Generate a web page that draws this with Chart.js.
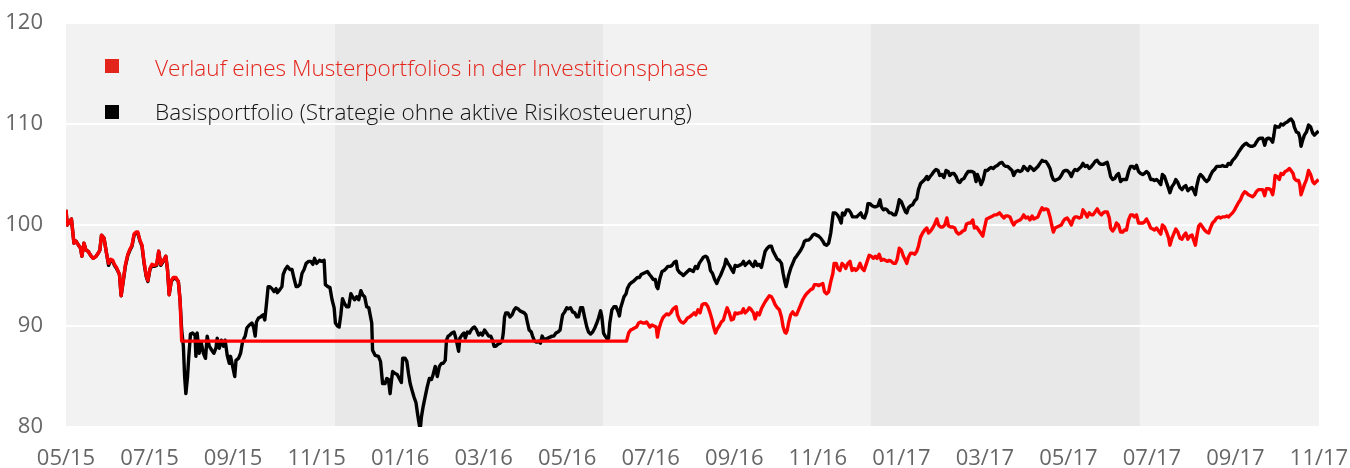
<!DOCTYPE html>
<html><head><meta charset="utf-8">
<script src="https://cdn.jsdelivr.net/npm/chart.js@4/dist/chart.umd.min.js"></script>
<style>html,body{margin:0;padding:0;background:#fff;}#wrap{width:1350px;height:468px;}</style>
</head><body><div id="wrap"><canvas id="c" width="1350" height="468"></canvas></div>
<script>
const tickLabels = ["05/15","07/15","09/15","11/15","01/16","03/16","05/16","07/16","09/16","11/16","01/17","03/17","05/17","07/17","09/17","11/17"];
const seriesNames = ["Verlauf eines Musterportfolios in der Investitionsphase","Basisportfolio (Strategie ohne aktive Risikosteuerung)"];
const yTicks = [80, 90, 100, 110, 120];
// shaded periods, in months since 05/15
const shadedBands = [[6.44, 12.86], [19.27, 25.71]];

// [months since 05/15, index value]
const basis = [
[0.00,101.5],[0.03,100.0],[0.08,100.3],[0.13,100.6],[0.15,99.8],[0.19,98.2],[0.24,98.4],[0.30,98.0],[0.35,97.7],[0.38,96.9],
[0.43,98.2],[0.48,97.5],[0.53,97.4],[0.59,97.0],[0.65,96.7],[0.72,96.9],[0.77,97.2],[0.81,97.5],[0.85,99.0],[0.91,98.7],
[0.97,97.2],[1.02,96.0],[1.07,96.5],[1.12,96.4],[1.16,96.0],[1.21,95.7],[1.28,95.1],[1.32,93.0],[1.37,94.4],[1.42,95.9],
[1.48,97.0],[1.53,97.5],[1.58,97.9],[1.63,99.0],[1.68,99.2],[1.72,99.2],[1.77,98.4],[1.82,97.9],[1.87,96.2],[1.92,94.9],
[1.96,94.4],[2.01,95.6],[2.06,96.0],[2.11,95.9],[2.17,96.0],[2.22,97.4],[2.27,96.0],[2.33,96.4],[2.39,96.9],[2.43,95.6],
[2.47,93.1],[2.52,94.4],[2.57,94.7],[2.63,94.7],[2.69,94.4],[2.73,92.6],[2.77,89.6],[2.81,88.0],[2.84,85.0],[2.87,83.3],
[2.91,85.0],[2.94,87.0],[2.98,89.2],[3.03,89.3],[3.09,89.1],[3.11,87.0],[3.14,89.3],[3.19,87.3],[3.24,88.3],[3.29,87.3],
[3.34,86.8],[3.38,89.0],[3.43,88.0],[3.49,87.6],[3.54,87.3],[3.59,87.8],[3.62,88.8],[3.67,87.8],[3.72,88.6],[3.77,88.0],
[3.81,88.6],[3.86,87.1],[3.91,86.3],[3.94,87.0],[3.99,86.0],[4.04,85.0],[4.07,86.6],[4.13,86.8],[4.18,87.3],[4.23,88.5],
[4.29,89.0],[4.33,89.8],[4.39,90.1],[4.45,90.3],[4.49,89.9],[4.53,89.0],[4.56,90.4],[4.61,90.8],[4.66,90.9],[4.72,91.1],
[4.76,90.6],[4.80,92.2],[4.84,93.9],[4.88,93.9],[4.93,93.7],[4.98,93.4],[5.03,93.7],[5.06,93.3],[5.12,93.6],[5.17,93.9],
[5.20,95.1],[5.25,95.6],[5.30,95.9],[5.36,95.6],[5.41,95.6],[5.46,94.7],[5.51,93.9],[5.55,93.9],[5.60,94.1],[5.65,95.2],
[5.70,95.6],[5.75,96.2],[5.81,96.4],[5.86,96.4],[5.91,96.1],[5.95,96.7],[6.00,96.2],[6.07,96.5],[6.12,96.4],[6.18,96.5],
[6.21,94.1],[6.27,93.9],[6.32,93.8],[6.37,92.6],[6.42,91.8],[6.45,90.3],[6.50,90.0],[6.54,89.9],[6.58,91.1],[6.62,92.7],
[6.67,92.2],[6.72,91.9],[6.77,91.9],[6.82,93.2],[6.86,92.9],[6.91,92.6],[6.96,92.9],[7.01,92.6],[7.06,93.5],[7.10,93.1],
[7.15,92.9],[7.20,91.9],[7.25,91.8],[7.32,90.3],[7.34,87.6],[7.40,87.1],[7.48,87.0],[7.53,86.5],[7.58,84.3],[7.64,84.3],
[7.68,84.8],[7.72,84.7],[7.76,83.3],[7.79,84.5],[7.82,85.5],[7.88,85.3],[7.93,85.2],[7.98,84.8],[8.03,84.4],[8.06,86.8],
[8.12,86.8],[8.16,86.5],[8.20,85.3],[8.24,84.3],[8.28,83.7],[8.33,83.0],[8.38,82.4],[8.41,81.5],[8.44,80.7],[8.48,79.7],
[8.51,81.0],[8.55,82.0],[8.60,83.0],[8.65,84.0],[8.70,84.8],[8.75,84.7],[8.79,85.2],[8.84,86.0],[8.89,85.0],[8.94,86.0],
[8.99,86.3],[9.03,86.3],[9.08,86.6],[9.11,88.6],[9.15,89.0],[9.19,89.1],[9.24,89.3],[9.29,89.4],[9.32,89.0],[9.35,88.5],
[9.40,87.5],[9.43,88.8],[9.48,89.1],[9.53,89.3],[9.56,88.8],[9.61,89.4],[9.66,89.3],[9.70,89.6],[9.74,89.8],[9.78,89.9],
[9.83,89.6],[9.88,89.1],[9.93,89.3],[9.97,89.1],[10.02,89.6],[10.07,89.3],[10.12,89.0],[10.17,89.0],[10.21,88.6],[10.25,88.0],
[10.29,88.0],[10.34,88.2],[10.39,88.3],[10.44,88.5],[10.47,89.3],[10.50,90.9],[10.53,91.3],[10.58,91.3],[10.63,90.9],[10.68,91.1],
[10.73,91.6],[10.77,91.8],[10.82,91.7],[10.87,91.5],[10.92,91.4],[10.97,91.3],[11.01,91.1],[11.05,90.3],[11.09,89.6],[11.14,89.4],
[11.17,89.0],[11.22,88.5],[11.27,88.4],[11.32,88.5],[11.36,88.3],[11.40,89.0],[11.44,88.7],[11.49,88.7],[11.54,88.8],[11.59,88.9],
[11.64,89.0],[11.68,89.0],[11.73,89.3],[11.78,89.4],[11.83,89.6],[11.86,90.4],[11.89,91.1],[11.94,91.4],[11.99,91.8],[12.03,91.7],
[12.08,91.8],[12.13,91.4],[12.18,91.3],[12.23,90.9],[12.27,90.9],[12.32,91.8],[12.37,91.8],[12.42,90.8],[12.47,89.9],[12.51,89.4],
[12.56,89.2],[12.61,89.4],[12.66,89.8],[12.71,90.3],[12.75,90.8],[12.80,91.5],[12.83,90.9],[12.87,89.3],[12.91,89.0],[12.96,88.7],
[12.99,88.8],[13.02,90.3],[13.07,91.6],[13.12,91.9],[13.17,91.9],[13.22,91.4],[13.25,91.0],[13.28,91.8],[13.31,92.2],[13.36,92.9],
[13.41,93.2],[13.44,93.7],[13.49,94.1],[13.54,94.3],[13.58,94.4],[13.63,94.6],[13.68,94.8],[13.73,94.8],[13.77,95.1],[13.82,95.2],
[13.87,95.3],[13.92,95.4],[13.97,95.1],[14.01,94.9],[14.06,94.6],[14.11,94.6],[14.14,93.9],[14.17,93.7],[14.22,94.7],[14.27,95.4],
[14.32,95.5],[14.37,95.7],[14.41,95.9],[14.46,95.9],[14.51,96.0],[14.56,96.3],[14.61,96.4],[14.64,95.6],[14.69,95.3],[14.73,95.2],
[14.78,95.0],[14.83,95.2],[14.88,95.4],[14.93,95.6],[15.02,95.4],[15.07,95.9],[15.12,95.7],[15.16,96.2],[15.21,96.5],[15.26,96.8],
[15.31,96.9],[15.35,96.8],[15.40,96.2],[15.43,95.5],[15.48,95.2],[15.53,94.6],[15.58,94.2],[15.63,94.7],[15.67,95.0],[15.72,95.5],
[15.77,96.0],[15.80,96.6],[15.85,96.2],[15.90,95.9],[15.95,95.5],[15.98,95.3],[16.02,96.0],[16.07,95.9],[16.12,96.0],[16.17,96.1],
[16.22,96.4],[16.26,96.0],[16.31,96.2],[16.36,96.4],[16.41,96.1],[16.46,95.9],[16.50,96.4],[16.55,96.0],[16.60,96.1],[16.65,95.8],
[16.70,96.7],[16.74,97.4],[16.79,97.7],[16.84,97.9],[16.89,97.9],[16.93,97.4],[16.98,97.0],[17.03,96.6],[17.08,96.5],[17.13,96.2],
[17.17,95.2],[17.21,94.4],[17.24,93.9],[17.27,94.4],[17.30,95.0],[17.35,95.7],[17.40,96.2],[17.45,96.7],[17.49,96.9],[17.54,97.2],
[17.59,97.5],[17.64,97.9],[17.68,98.4],[17.73,98.5],[17.78,98.5],[17.83,98.7],[17.88,99.0],[17.92,99.1],[17.97,99.0],[18.02,98.9],
[18.07,98.7],[18.12,98.4],[18.16,98.1],[18.21,98.0],[18.26,98.2],[18.31,99.2],[18.34,100.2],[18.37,101.2],[18.42,101.2],[18.47,101.0],
[18.51,100.7],[18.56,100.2],[18.59,101.2],[18.64,101.0],[18.69,101.5],[18.74,101.5],[18.79,101.2],[18.83,100.8],[18.88,100.8],[18.93,100.8],
[18.98,101.0],[19.03,101.2],[19.07,100.8],[19.12,100.7],[19.17,101.3],[19.20,102.1],[19.25,102.1],[19.30,101.9],[19.35,101.8],[19.39,101.8],
[19.44,101.9],[19.49,102.5],[19.52,101.8],[19.57,101.5],[19.62,101.6],[19.66,101.5],[19.71,101.2],[19.76,101.2],[19.81,101.0],[19.86,101.0],
[19.90,101.5],[19.95,102.5],[20.00,102.3],[20.05,101.8],[20.10,101.3],[20.13,101.2],[20.17,101.7],[20.22,101.9],[20.27,102.0],[20.32,102.4],
[20.37,102.6],[20.41,103.5],[20.46,104.1],[20.51,104.3],[20.56,104.5],[20.61,104.8],[20.64,104.5],[20.69,104.8],[20.73,105.0],[20.78,105.3],
[20.83,105.5],[20.88,105.4],[20.92,104.9],[20.97,105.0],[21.02,104.7],[21.07,105.4],[21.12,105.3],[21.16,104.9],[21.21,105.1],[21.26,105.1],
[21.31,104.8],[21.36,104.3],[21.40,104.2],[21.45,104.5],[21.50,104.6],[21.55,105.0],[21.60,105.3],[21.64,105.3],[21.69,105.3],[21.74,105.2],
[21.79,104.3],[21.82,105.0],[21.87,104.5],[21.91,104.0],[21.96,104.5],[22.01,105.4],[22.06,105.4],[22.11,105.6],[22.15,105.7],[22.20,105.6],
[22.25,105.8],[22.30,105.9],[22.35,106.1],[22.41,106.2],[22.46,105.9],[22.50,105.8],[22.55,105.8],[22.60,105.6],[22.65,105.4],[22.69,104.9],
[22.74,105.3],[22.79,105.4],[22.84,105.3],[22.89,105.4],[22.93,105.8],[22.98,105.6],[23.03,105.4],[23.08,105.8],[23.13,105.6],[23.17,105.4],
[23.22,105.6],[23.27,105.8],[23.32,106.1],[23.37,106.4],[23.41,106.3],[23.46,106.3],[23.51,106.0],[23.56,105.6],[23.60,104.9],[23.64,104.5],
[23.68,104.4],[23.73,104.5],[23.78,104.6],[23.83,104.9],[23.88,105.3],[23.92,105.4],[23.97,105.4],[24.02,105.2],[24.07,104.8],[24.12,105.3],
[24.16,105.5],[24.21,105.4],[24.26,105.6],[24.31,105.8],[24.35,106.1],[24.40,105.8],[24.45,105.9],[24.50,105.6],[24.55,105.8],[24.59,106.0],
[24.64,106.3],[24.69,106.4],[24.74,106.1],[24.79,106.0],[24.83,106.0],[24.88,106.1],[24.93,106.2],[24.98,105.4],[25.01,104.8],[25.06,104.5],
[25.11,104.6],[25.15,104.9],[25.20,105.1],[25.25,104.3],[25.30,104.5],[25.34,104.5],[25.39,104.5],[25.44,105.3],[25.49,105.8],[25.54,105.8],
[25.58,105.6],[25.63,105.9],[25.68,105.3],[25.73,105.1],[25.78,105.0],[25.82,105.1],[25.87,105.3],[25.92,105.1],[25.97,104.5],[26.02,104.5],
[26.06,104.4],[26.11,104.5],[26.16,104.3],[26.21,104.0],[26.25,105.0],[26.30,104.8],[26.35,104.2],[26.40,103.6],[26.43,103.2],[26.48,103.8],
[26.53,104.1],[26.57,104.5],[26.62,104.2],[26.67,103.7],[26.72,103.5],[26.77,103.8],[26.81,103.9],[26.86,103.4],[26.91,103.6],[26.96,103.7],
[27.00,103.4],[27.04,103.0],[27.07,103.8],[27.12,104.7],[27.16,105.0],[27.21,104.8],[27.26,104.5],[27.31,104.3],[27.36,104.5],[27.40,104.9],
[27.45,105.3],[27.50,105.5],[27.55,105.8],[27.60,105.8],[27.64,105.8],[27.69,105.9],[27.74,105.8],[27.79,105.8],[27.83,106.1],[27.88,106.0],
[27.93,106.4],[27.98,106.6],[28.03,106.9],[28.07,107.2],[28.12,107.5],[28.17,107.8],[28.22,108.0],[28.26,108.1],[28.31,107.9],[28.36,107.8],
[28.41,107.8],[28.46,107.9],[28.50,108.2],[28.55,108.5],[28.60,108.6],[28.65,108.6],[28.70,107.9],[28.74,108.5],[28.79,108.6],[28.84,108.5],
[28.89,108.2],[28.92,108.9],[28.95,109.8],[29.00,109.7],[29.05,109.7],[29.09,110.0],[29.14,109.9],[29.19,110.1],[29.24,110.2],[29.29,110.4],
[29.33,110.5],[29.38,110.2],[29.41,109.7],[29.46,109.2],[29.51,109.1],[29.54,108.7],[29.57,107.8],[29.61,108.4],[29.65,108.9],[29.70,109.2],
[29.75,109.9],[29.80,109.7],[29.85,109.1],[29.89,108.9],[29.94,109.1],[29.99,109.3]
];

const muster = [
[0.00,101.5],[0.03,100.0],[0.08,100.3],[0.13,100.6],[0.15,99.8],[0.19,98.2],[0.24,98.4],[0.30,98.0],[0.35,97.7],[0.38,96.9],
[0.43,98.2],[0.48,97.5],[0.53,97.4],[0.59,97.0],[0.65,96.7],[0.72,96.9],[0.77,97.2],[0.81,97.5],[0.85,99.0],[0.91,98.7],
[0.97,97.2],[1.02,96.2],[1.07,96.6],[1.12,96.5],[1.16,96.1],[1.21,95.8],[1.28,95.1],[1.32,93.0],[1.37,94.5],[1.42,96.0],
[1.48,97.1],[1.53,97.6],[1.58,98.0],[1.63,99.1],[1.68,99.3],[1.72,99.3],[1.77,98.5],[1.82,98.0],[1.87,96.3],[1.92,95.0],
[1.96,94.5],[2.01,95.7],[2.06,96.1],[2.11,96.0],[2.17,96.1],[2.22,97.4],[2.27,96.1],[2.33,96.5],[2.39,96.9],[2.43,95.6],
[2.47,93.1],[2.52,94.5],[2.57,94.8],[2.63,94.8],[2.69,94.4],[2.73,92.6],[2.77,88.5],[13.42,88.5],
[13.47,89.3],[13.52,89.6],[13.57,89.7],[13.61,89.8],[13.66,89.9],[13.71,90.3],[13.76,90.4],[13.81,90.3],[13.86,90.3],[13.90,90.4],
[13.95,90.1],[13.98,89.9],[14.03,90.1],[14.08,90.0],[14.13,89.9],[14.16,88.9],[14.19,89.6],[14.24,90.3],[14.29,90.8],[14.33,91.0],
[14.38,91.2],[14.43,91.1],[14.48,91.3],[14.52,91.6],[14.57,91.8],[14.61,91.9],[14.64,91.1],[14.69,90.6],[14.73,90.4],[14.78,90.3],
[14.83,90.5],[14.88,90.8],[14.93,90.9],[14.99,91.1],[15.04,91.3],[15.08,91.1],[15.13,91.6],[15.18,91.3],[15.23,92.1],[15.27,92.2],
[15.32,92.2],[15.37,91.9],[15.42,91.3],[15.47,90.6],[15.50,90.0],[15.55,89.3],[15.59,89.7],[15.64,90.0],[15.69,90.4],[15.74,90.6],
[15.79,91.3],[15.83,91.8],[15.88,91.3],[15.93,90.6],[15.98,90.7],[16.02,91.3],[16.07,91.2],[16.12,91.3],[16.17,91.3],[16.22,91.7],
[16.26,91.3],[16.31,91.5],[16.36,91.8],[16.41,91.6],[16.46,91.3],[16.50,90.7],[16.55,91.3],[16.60,91.1],[16.65,91.7],[16.70,92.1],
[16.74,92.4],[16.79,92.7],[16.84,93.0],[16.89,92.9],[16.93,92.6],[16.98,92.1],[17.03,91.8],[17.08,91.6],[17.13,90.9],[17.17,89.9],
[17.21,89.4],[17.24,89.3],[17.27,89.6],[17.30,90.3],[17.35,91.1],[17.40,91.4],[17.45,91.1],[17.49,91.1],[17.54,91.6],[17.59,92.1],
[17.64,92.6],[17.68,92.9],[17.73,93.2],[17.78,93.4],[17.83,93.6],[17.88,93.7],[17.92,94.1],[17.97,94.1],[18.02,94.0],[18.07,94.1],
[18.12,94.2],[18.16,93.4],[18.21,93.2],[18.26,93.4],[18.31,94.4],[18.36,95.2],[18.39,96.2],[18.44,96.2],[18.48,95.7],[18.53,95.5],
[18.58,96.2],[18.63,96.0],[18.67,95.7],[18.72,96.2],[18.77,96.4],[18.82,95.5],[18.87,95.7],[18.91,95.5],[18.96,95.7],[19.01,96.2],
[19.06,95.7],[19.11,95.5],[19.15,96.0],[19.19,96.5],[19.23,97.0],[19.28,96.9],[19.33,96.7],[19.38,96.9],[19.42,96.7],[19.47,97.1],
[19.52,96.5],[19.57,96.6],[19.62,96.5],[19.66,96.4],[19.71,96.5],[19.76,96.4],[19.81,96.2],[19.86,96.2],[19.90,96.6],[19.95,97.7],
[20.00,97.5],[20.05,96.9],[20.10,96.5],[20.13,96.2],[20.17,96.8],[20.22,97.2],[20.27,97.2],[20.32,97.1],[20.37,97.4],[20.41,97.9],
[20.46,98.8],[20.51,99.2],[20.56,99.5],[20.61,99.7],[20.65,99.2],[20.70,99.4],[20.75,99.7],[20.80,100.1],[20.85,100.6],[20.89,100.0],
[20.94,99.8],[20.99,99.8],[21.04,100.0],[21.09,100.7],[21.13,99.9],[21.18,99.8],[21.23,99.8],[21.28,99.7],[21.32,99.3],[21.37,99.1],
[21.42,99.2],[21.47,99.4],[21.52,99.5],[21.56,100.1],[21.61,100.2],[21.66,100.2],[21.71,100.5],[21.75,99.7],[21.80,99.8],[21.85,99.5],
[21.90,99.2],[21.95,98.9],[21.99,99.7],[22.04,100.6],[22.09,100.7],[22.14,100.8],[22.19,100.9],[22.23,101.0],[22.28,101.0],[22.35,101.2],
[22.41,100.9],[22.46,100.7],[22.50,100.9],[22.55,100.9],[22.60,100.8],[22.65,100.3],[22.69,100.0],[22.74,100.3],[22.79,100.4],[22.84,100.5],
[22.89,100.7],[22.93,101.0],[22.98,100.7],[23.03,100.8],[23.08,100.5],[23.13,100.9],[23.17,100.6],[23.22,100.7],[23.27,100.8],[23.32,101.3],
[23.37,101.7],[23.41,101.5],[23.46,101.6],[23.51,101.5],[23.56,100.8],[23.60,100.0],[23.64,99.3],[23.68,99.7],[23.73,99.8],[23.78,99.9],
[23.83,100.0],[23.88,100.4],[23.92,100.6],[23.97,100.7],[24.02,100.4],[24.07,100.0],[24.12,100.6],[24.16,100.8],[24.21,100.8],[24.26,100.7],
[24.31,100.8],[24.35,101.5],[24.40,101.2],[24.45,100.8],[24.50,101.2],[24.55,101.0],[24.59,101.0],[24.64,101.3],[24.69,101.6],[24.74,101.2],
[24.79,101.0],[24.83,101.2],[24.88,101.3],[24.93,101.3],[24.98,100.7],[25.01,99.7],[25.06,99.4],[25.11,99.7],[25.15,100.2],[25.20,100.0],
[25.25,99.3],[25.30,99.3],[25.34,99.5],[25.39,99.5],[25.44,100.5],[25.49,101.0],[25.54,101.0],[25.58,100.8],[25.63,101.0],[25.68,100.2],
[25.73,100.2],[25.78,100.2],[25.82,100.3],[25.87,100.6],[25.92,100.2],[25.97,99.7],[26.02,99.6],[26.06,99.5],[26.11,99.7],[26.16,99.4],
[26.21,99.1],[26.25,100.0],[26.30,99.8],[26.35,99.3],[26.40,98.7],[26.43,98.0],[26.48,98.7],[26.53,99.2],[26.57,99.6],[26.62,99.3],
[26.67,98.7],[26.72,98.6],[26.77,99.0],[26.81,99.2],[26.86,98.6],[26.91,98.9],[26.96,99.0],[27.00,98.5],[27.04,98.0],[27.07,98.8],
[27.12,99.9],[27.16,100.1],[27.21,99.8],[27.26,99.5],[27.31,99.3],[27.36,99.2],[27.40,99.7],[27.45,100.2],[27.50,100.4],[27.55,100.7],
[27.60,100.8],[27.64,100.7],[27.69,100.8],[27.74,100.8],[27.79,100.9],[27.83,100.8],[27.88,101.0],[27.93,101.2],[27.98,101.5],[28.03,101.9],
[28.07,102.2],[28.12,102.5],[28.17,103.0],[28.22,103.3],[28.26,103.2],[28.31,103.0],[28.36,102.9],[28.41,102.8],[28.46,103.0],[28.50,103.3],
[28.55,103.5],[28.60,103.5],[28.65,103.5],[28.70,102.9],[28.74,103.6],[28.79,103.6],[28.84,103.5],[28.89,103.0],[28.92,103.7],[28.95,104.9],
[29.00,104.8],[29.05,104.5],[29.09,105.1],[29.14,105.0],[29.19,105.3],[29.24,105.4],[29.29,105.6],[29.33,105.4],[29.38,105.1],[29.41,104.6],
[29.46,104.4],[29.51,104.4],[29.54,104.0],[29.57,103.0],[29.61,103.5],[29.65,104.0],[29.70,104.5],[29.75,105.4],[29.80,105.0],[29.85,104.3],
[29.89,104.1],[29.94,104.3],[29.99,104.5]
];

const FONT = '"Open Sans", "Noto Sans", sans-serif';

const backgroundPlugin = {
  id: 'panelBackground',
  beforeDraw(chart) {
    const { ctx, chartArea: a, scales: { x } } = chart;
    ctx.save();
    ctx.fillStyle = '#f2f2f2';
    ctx.fillRect(a.left, a.top, a.right - a.left, a.bottom - a.top);
    ctx.fillStyle = '#e8e8e8';
    shadedBands.forEach(([s, e]) => {
      const x0 = x.getPixelForValue(s), x1 = x.getPixelForValue(e);
      ctx.fillRect(x0, a.top, x1 - x0, a.bottom - a.top);
    });
    ctx.restore();
  }
};

const legendPlugin = {
  id: 'innerLegend',
  afterDraw(chart) {
    const ctx = chart.ctx;
    const items = [
      { box: '#e3241b', text: '#e3241b', label: chart.data.datasets[0].label, base: 76, top: 59 },
      { box: '#000000', text: '#111111', label: chart.data.datasets[1].label, base: 120, top: 105 }
    ];
    ctx.save();
    ctx.font = '300 22.6px ' + FONT;
    ctx.textBaseline = 'alphabetic';
    ctx.textAlign = 'left';
    items.forEach(it => {
      ctx.fillStyle = it.box;
      ctx.fillRect(105, it.top, 14, 14);
      ctx.fillStyle = it.text;
      ctx.fillText(it.label, 155, it.base);
    });
    ctx.restore();
  }
};

const zeroPad = s => { s.paddingTop = 0; s.paddingBottom = 0; s.paddingLeft = 0; s.paddingRight = 0; };

new Chart(document.getElementById('c'), {
  type: 'line',
  data: {
    datasets: [
      { label: seriesNames[0], data: muster.map(([x, y]) => ({ x, y })), borderColor: '#ff0000', borderWidth: 3.4, pointRadius: 0, tension: 0, borderJoinStyle: 'round', fill: false },
      { label: seriesNames[1], data: basis.map(([x, y]) => ({ x, y })), borderColor: '#000000', borderWidth: 3.4, pointRadius: 0, tension: 0, borderJoinStyle: 'round', fill: false }
    ]
  },
  options: {
    responsive: false,
    animation: false,
    devicePixelRatio: 1,
    layout: { padding: { top: 23, right: 31, left: 0, bottom: 0 } },
    plugins: { legend: { display: false }, tooltip: { enabled: false } },
    scales: {
      x: {
        type: 'linear', min: 0, max: (tickLabels.length - 1) * 2,
        afterBuildTicks: s => { s.ticks = tickLabels.map((_, i) => ({ value: i * 2 })); },
        ticks: { callback: v => tickLabels[Math.round(v / 2)], color: '#666666', font: { family: FONT, size: 22 }, padding: 19, maxRotation: 0, autoSkip: false },
        grid: { display: false, drawTicks: false },
        border: { display: false },
        afterFit: s => { s.height = 41; zeroPad(s); }
      },
      y: {
        min: yTicks[0], max: yTicks[yTicks.length - 1],
        afterBuildTicks: s => { s.ticks = yTicks.map(v => ({ value: v })); },
        ticks: { color: '#666666', font: { family: FONT, size: 22 }, padding: 23 },
        grid: { color: '#ffffff', lineWidth: 2, drawTicks: false },
        border: { display: false },
        afterFit: s => { s.width = 66; zeroPad(s); }
      }
    }
  },
  plugins: [backgroundPlugin, legendPlugin]
});
</script>
</body></html>
